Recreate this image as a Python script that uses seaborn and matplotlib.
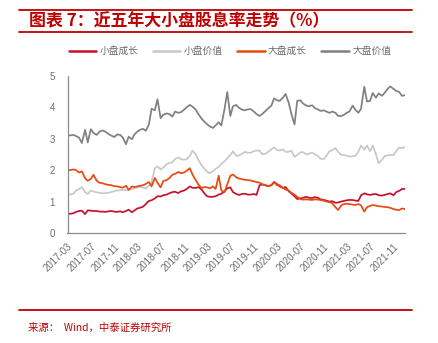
import matplotlib
matplotlib.use("Agg")
import matplotlib.pyplot as plt
from matplotlib.lines import Line2D
import numpy as np
import pandas as pd
import seaborn as sns

# ---- data: dividend yield (%), semi-monthly observations ----
dates = list(pd.date_range("2017-03-01", "2021-12-16", freq="SMS")) + [pd.Timestamp("2021-12-31")]

small_growth = [
    0.63, 0.61, 0.63, 0.67, 0.70, 0.71, 0.60, 0.72, 0.71, 0.70,
    0.70, 0.68, 0.68, 0.67, 0.69, 0.70, 0.68, 0.67, 0.69, 0.66,
    0.70, 0.74, 0.66, 0.72, 0.78, 0.80, 0.84, 0.92, 1.02, 1.04,
    1.10, 1.17, 1.16, 1.20, 1.22, 1.26, 1.30, 1.31, 1.27, 1.32,
    1.35, 1.40, 1.48, 1.44, 1.43, 1.46, 1.38, 1.26, 1.17, 1.15,
    1.15, 1.17, 1.22, 1.25, 1.33, 1.42, 1.45, 1.30, 1.24, 1.21,
    1.24, 1.25, 1.22, 1.22, 1.24, 1.21, 1.52, 1.54, 1.52, 1.49,
    1.52, 1.62, 1.56, 1.48, 1.43, 1.46, 1.33, 1.26, 1.17, 1.08,
    1.10, 1.12, 1.15, 1.12, 1.11, 1.14, 1.12, 1.07, 1.05, 1.03,
    1.00, 1.01, 0.96, 0.97, 1.00, 1.02, 1.04, 1.05, 1.05, 1.03,
    1.02, 1.20, 1.26, 1.23, 1.21, 1.23, 1.24, 1.20, 1.19, 1.21,
    1.24, 1.26, 1.20, 1.30, 1.34, 1.40, 1.40,
]

small_value = [
    1.26, 1.22, 1.25, 1.35, 1.40, 1.46, 1.30, 1.24, 1.35, 1.32,
    1.29, 1.28, 1.26, 1.27, 1.28, 1.30, 1.33, 1.35, 1.36, 1.37,
    1.36, 1.38, 1.39, 1.42, 1.45, 1.47, 1.44, 1.42, 1.50, 1.62,
    2.05, 2.12, 2.02, 2.08, 2.18, 2.22, 2.25, 2.35, 2.40, 2.35,
    2.33, 2.35, 2.45, 2.62, 2.50, 2.32, 2.15, 2.05, 1.96, 1.90,
    1.97, 2.04, 2.10, 2.20, 2.28, 2.38, 2.48, 2.60, 2.45, 2.46,
    2.52, 2.58, 2.55, 2.55, 2.60, 2.62, 2.62, 2.50, 2.52, 2.58,
    2.66, 2.72, 2.64, 2.62, 2.66, 2.58, 2.58, 2.62, 2.42, 2.48,
    2.56, 2.57, 2.50, 2.52, 2.56, 2.50, 2.45, 2.36, 2.35, 2.46,
    2.60, 2.63, 2.70, 2.58, 2.48, 2.48, 2.46, 2.43, 2.44, 2.45,
    2.59, 2.78, 2.65, 2.78, 2.60, 2.78, 2.50, 2.22, 2.32, 2.44,
    2.47, 2.48, 2.48, 2.60, 2.72, 2.70, 2.73,
]

large_growth = [
    2.00, 2.00, 2.02, 2.00, 1.92, 1.96, 1.74, 1.66, 1.72, 1.85,
    1.66, 1.60, 1.58, 1.55, 1.53, 1.52, 1.49, 1.48, 1.46, 1.44,
    1.50, 1.37, 1.48, 1.46, 1.48, 1.50, 1.52, 1.56, 1.62, 1.48,
    1.75, 1.60, 1.45, 1.65, 1.68, 1.74, 1.85, 1.88, 1.94, 1.90,
    1.92, 1.98, 2.06, 1.86, 1.68, 1.54, 1.43, 1.46, 1.45, 1.42,
    1.48, 1.40, 1.82, 1.35, 1.30, 1.55, 1.82, 1.86, 1.77, 1.73,
    1.71, 1.69, 1.68, 1.67, 1.64, 1.62, 1.60, 1.55, 1.52, 1.48,
    1.52, 1.62, 1.52, 1.52, 1.44, 1.38, 1.35, 1.28, 1.22, 1.15,
    1.08, 1.06, 1.07, 1.06, 1.05, 1.07, 1.06, 1.05, 1.03, 1.00,
    0.98, 0.95, 0.82, 0.73, 0.88, 0.92, 0.93, 0.92, 0.90, 0.89,
    0.92, 0.88, 0.68, 0.82, 0.86, 0.89, 0.87, 0.85, 0.84, 0.83,
    0.82, 0.80, 0.76, 0.74, 0.73, 0.78, 0.76,
]

large_value = [
    3.11, 3.10, 3.12, 3.08, 3.03, 2.86, 3.28, 2.88, 3.30, 3.18,
    3.12, 3.22, 3.26, 3.22, 3.15, 3.10, 3.05, 3.13, 3.12, 3.04,
    2.82, 3.06, 2.98, 3.14, 3.22, 3.28, 3.31, 3.25, 3.45, 3.95,
    3.90, 4.25, 3.65, 3.76, 3.80, 3.78, 3.70, 3.86, 3.82, 3.84,
    3.92, 4.00, 4.07, 4.02, 3.92, 3.78, 3.63, 3.54, 3.46, 3.39,
    3.34, 3.42, 3.52, 3.42, 3.95, 4.48, 3.72, 4.03, 4.07, 3.98,
    3.92, 3.90, 3.93, 3.94, 3.86, 3.78, 3.72, 3.78, 3.88, 3.96,
    4.05, 4.28, 4.22, 4.20, 4.30, 4.42, 4.15, 3.80, 3.45, 4.20,
    4.22, 4.12, 4.05, 4.03, 4.06, 3.97, 3.93, 3.88, 3.90, 3.86,
    3.82, 3.86, 3.82, 3.72, 3.72, 3.76, 3.82, 3.86, 4.05, 3.92,
    3.82, 3.95, 4.65, 4.18, 4.20, 4.45, 4.30, 4.44, 4.36, 4.45,
    4.58, 4.66, 4.58, 4.52, 4.48, 4.36, 4.38,
]

series_names = ["小盘成长", "小盘价值", "大盘成长", "大盘价值"]
series_colors = ["#C8102E", "#C8C8C8", "#E8490F", "#808080"]

tick_dates = pd.date_range("2017-03-01", "2021-11-01", freq="4MS")
y_ticks = [0, 1, 2, 3, 4, 5]

# ---- long-form table for seaborn ----
df = pd.concat(
    [pd.DataFrame({"date": dates, "value": vals, "series": name})
     for name, vals in zip(series_names, [small_growth, small_value, large_growth, large_value])],
    ignore_index=True,
)

sns.set_style("white")
plt.rcParams["font.family"] = ["Liberation Sans", "Noto Sans CJK SC", "DejaVu Sans"]

RED = "#C00000"
TXT = "#6E6E6E"
AX = "#8C8C8C"

fig = plt.figure(figsize=(4.39, 3.43), dpi=100)
ax = fig.add_axes([67.5 / 439, 1 - 233 / 343, (405 - 67.5) / 439, (233 - 75.7) / 343])

sns.lineplot(data=df, x="date", y="value", hue="series", hue_order=series_names,
             palette=dict(zip(series_names, series_colors)), estimator=None,
             linewidth=1.25, ax=ax)

ax.set_xlim(dates[0], dates[-1])
ax.set_ylim(0, 5)
ax.set_yticks(y_ticks)
ax.set_xticks(tick_dates)
ax.set_xticklabels([d.strftime("%Y-%m") for d in tick_dates], rotation=45,
                   ha="right", rotation_mode="anchor")
ax.set_xlabel("")
ax.set_ylabel("")

for s in ["top", "right"]:
    ax.spines[s].set_visible(False)
for s in ["left", "bottom"]:
    ax.spines[s].set_color(AX)
    ax.spines[s].set_linewidth(0.9)

ax.tick_params(axis="both", direction="out", length=3, width=0.8, color=AX,
               labelsize=7, labelcolor=TXT)
ax.tick_params(axis="y", pad=6)
ax.tick_params(axis="x", pad=3)

leg = ax.legend(loc="center", bbox_to_anchor=(230 / 439, 1 - 51 / 343),
                bbox_transform=fig.transFigure, ncol=4, frameon=False,
                handlelength=2.8, handletextpad=0.35, columnspacing=1.5,
                prop={"family": ["Noto Sans CJK SC"], "size": 7})
for t in leg.get_texts():
    t.set_color(TXT)
for h in leg.legend_handles:
    h.set_linewidth(1.8)

# ---- header / footer rules and texts ----
for ypx in (10, 32, 310):
    fig.add_artist(Line2D([19 / 439, 412 / 439], [1 - ypx / 343] * 2,
                          color=RED, linewidth=1.3))

fig.text(29 / 439, 1 - 21.5 / 343, "图表 7：近五年大小盘股息率走势（%）",
         color=RED, fontsize=12.2, fontweight="bold",
         family=["Noto Sans CJK SC"], ha="left", va="center")
fig.text(28 / 439, 1 - 327.5 / 343, "来源：  Wind，中泰证券研究所",
         color=RED, fontsize=7.5, family=["Noto Sans CJK SC"],
         ha="left", va="center")

fig.savefig("out.png", dpi=100)
